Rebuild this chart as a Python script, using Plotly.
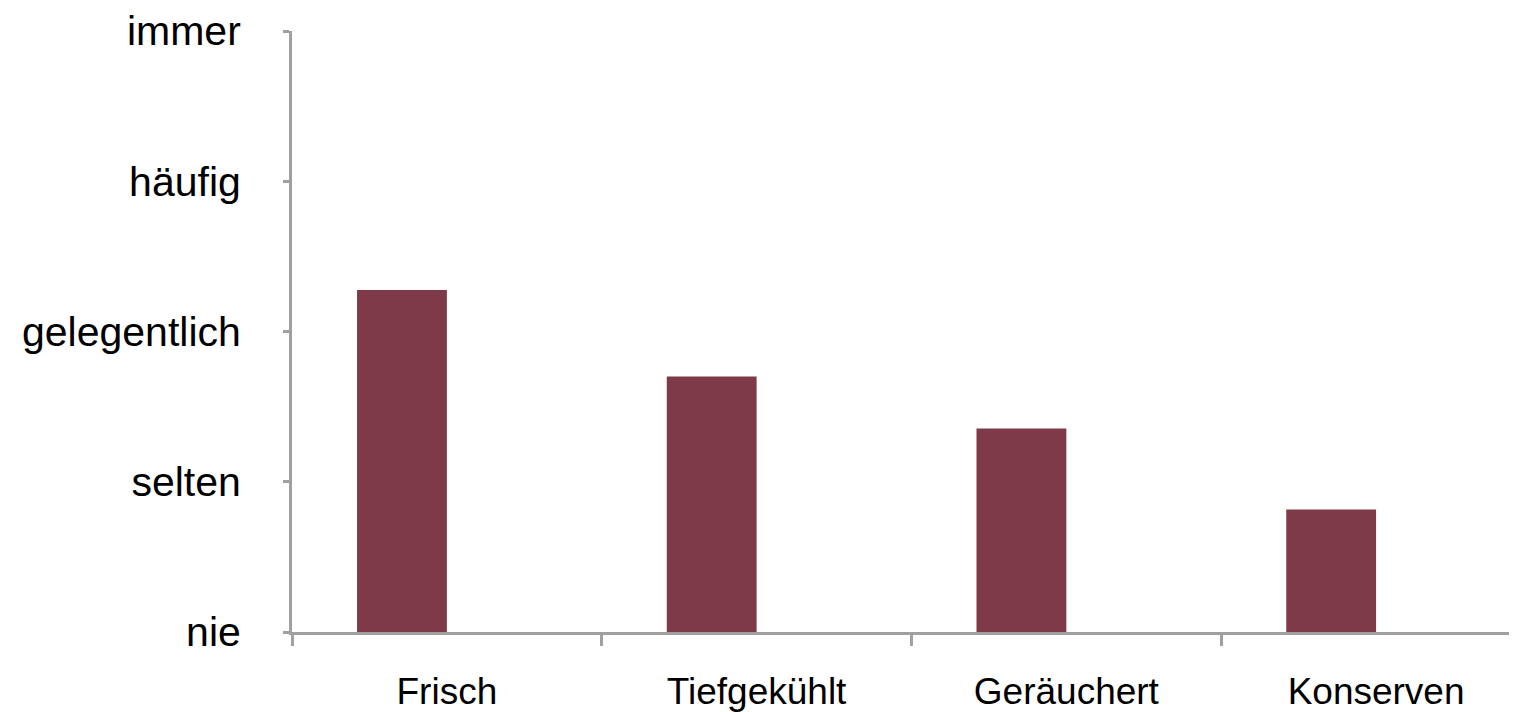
import plotly.graph_objects as go

categories = ["Frisch", "Tiefgekühlt", "Geräuchert", "Konserven"]
values = [2.276, 1.70, 1.355, 0.816]
y_tick_values = [0, 1, 2, 3, 4]
y_tick_labels = ["nie", "selten", "gelegentlich", "häufig", "immer"]

fig = go.Figure()
fig.add_trace(go.Bar(
    x=categories, y=values,
    marker=dict(color="#7F3A4A", line=dict(width=0)),
    width=0.29, offset=-0.29,
))

axis_color = "#A0A0A0"
fig.update_layout(
    width=1509, height=704,
    margin=dict(l=284, r=0, t=18, b=76),
    paper_bgcolor="white", plot_bgcolor="white",
    showlegend=False,
    font=dict(family="Liberation Sans, Arial, sans-serif", color="black"),
)
fig.update_xaxes(
    type="category",
    range=[-0.5, 3.455],
    showline=True, linecolor=axis_color, linewidth=3,
    ticks="outside", tickson="boundaries", ticklen=11, tickwidth=3, tickcolor=axis_color,
    tickfont=dict(size=37, color="black"),
    ticklabelstandoff=25,
    showgrid=False, zeroline=False,
)
fig.update_yaxes(
    range=[0, 4],
    tickmode="array", tickvals=y_tick_values, ticktext=y_tick_labels,
    showline=True, linecolor=axis_color, linewidth=3,
    ticks="outside", ticklen=6, tickwidth=3, tickcolor=axis_color,
    tickfont=dict(size=41, color="black"),
    ticklabelstandoff=34,
    ticklabeloverflow="allow",
    showgrid=False, zeroline=False,
)

fig.write_html("out.html")
